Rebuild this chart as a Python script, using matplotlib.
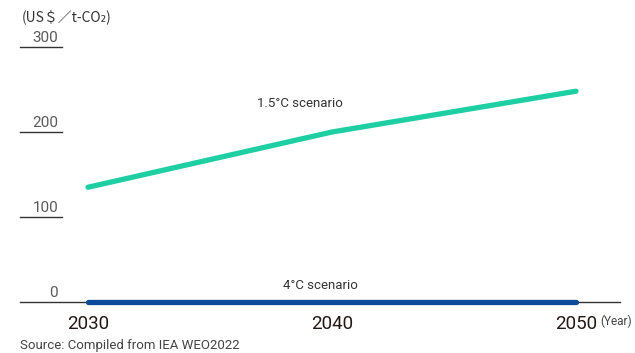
import matplotlib.pyplot as plt

years = [2030, 2040, 2050]
scenario_15 = [135, 200, 248]
scenario_4 = [0, 0, 0]
yticks = [0, 100, 200, 300]
xtick_labels = ['2030', '2040', '2050']

plt.rcParams['font.family'] = ['Roboto', 'DejaVu Sans']

fig = plt.figure(figsize=(6.35, 3.53), dpi=100)
ax = fig.add_axes([0, 0, 1, 1])
ax.axis('off')

# pixel mapping: 2030 -> 88px, 2050 -> 576px; 0 -> 51px from bottom, 85px per 100
px_per_year = (576 - 88) / 20
ax.set_xlim(2030 - 88 / px_per_year, 2030 + (635 - 88) / px_per_year)
ax.set_ylim(-51 / 0.85, (353 - 51) / 0.85)

W = 635
ytr = ax.get_yaxis_transform()
xtr = ax.get_xaxis_transform()

# y tick rules and labels
for v in yticks[1:]:
    ax.plot([20 / W, 62 / W], [v, v], color='#333333', lw=1.0, transform=ytr)
for v in yticks:
    ax.text(58 / W, v + 2.5, str(v), transform=ytr, ha='right', va='bottom',
            fontsize=11, color='#5a5a5a')
ax.plot([20 / W, 620 / W], [0, 0], color='#333333', lw=1.0, transform=ytr)

# series
ax.plot(years, scenario_15, color='#1dcfa3', lw=3.8, solid_capstyle='round')
ax.plot(years, scenario_4, color='#0b4a98', lw=3.8, solid_capstyle='round')

ax.text(2040 - 32 / px_per_year, 234, '1.5°C scenario', ha='center', va='center',
        fontsize=9.5, color='#333333')
ax.text(2040 - 12 / px_per_year, 19, '4°C scenario', ha='center', va='center',
        fontsize=9.5, color='#333333')

# x tick labels
for yr, lab in zip(years, xtick_labels):
    ax.text(yr, 29 / 353, lab, transform=xtr, ha='center', va='center',
            fontsize=13.5, color='#231815')
ax.text(2050 + 24 / px_per_year, 32 / 353, '(Year)', transform=xtr, ha='left',
        va='center', fontsize=8.5, color='#444444')

fig.text(22 / W, 1 - 17 / 353, '(US＄／t-CO₂)', ha='left', va='center', fontsize=10,
         color='#333333', family=['Noto Sans CJK JP', 'DejaVu Sans'])
fig.text(20 / W, 1 / 353, 'Source: Compiled from IEA WEO2022', ha='left', va='bottom',
         fontsize=9.5, color='#444444')

fig.savefig('out.png', dpi=100)
